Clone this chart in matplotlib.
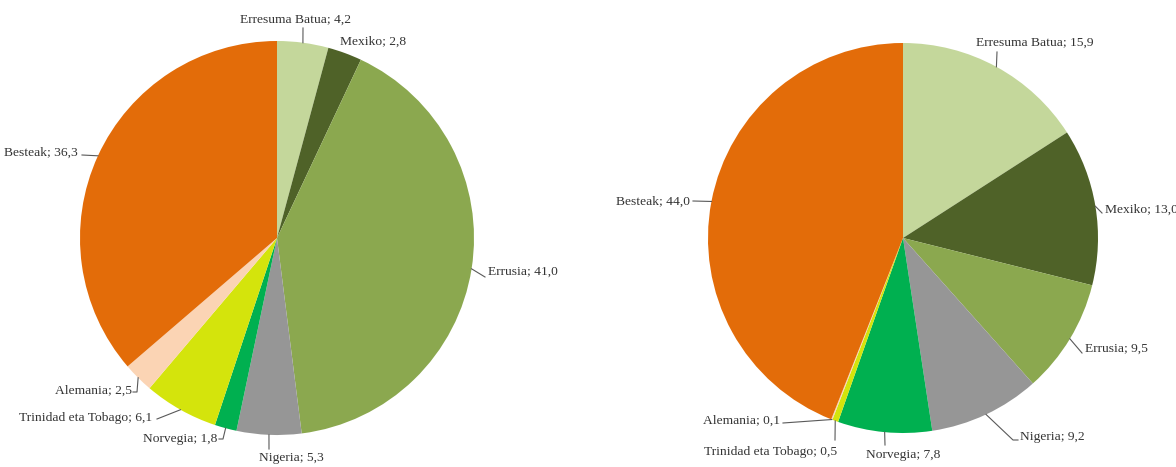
import numpy as np
import matplotlib
matplotlib.use("Agg")
import matplotlib.pyplot as plt

plt.rcParams['font.family'] = ['Liberation Serif', 'DejaVu Serif']

# data
countries = ["Erresuma Batua", "Mexiko", "Errusia", "Nigeria", "Norvegia",
             "Trinidad eta Tobago", "Alemania", "Besteak"]
left_values = [4.2, 2.8, 41.0, 5.3, 1.8, 6.1, 2.5, 36.3]
right_values = [15.9, 13.0, 9.5, 9.2, 7.8, 0.5, 0.1, 44.0]
colors = ["#c4d79b", "#4f6228", "#8ba84f", "#969696", "#00b050",
          "#d4e40c", "#fbd4b4", "#e36c09"]

W, H = 1176, 467

# label layout in pixel coords (y down): text x, text y, ha, leader points
left_layout = [
    (295, 20, "center", [(303, 28)]),
    (340, 42, "left", []),
    (488, 272, "left", [(485, 277)]),
    (291, 458, "center", [(269, 449)]),
    (217, 439, "right", [(223, 439), (219, 439)]),
    (152, 418, "right", [(157, 419)]),
    (132, 391, "right", [(137, 392), (133, 392)]),
    (78, 153, "right", [(82, 155)]),
]
right_layout = [
    (1035, 43, "center", [(997, 52)]),
    (1105, 210, "left", [(1102, 213)]),
    (1085, 349, "left", [(1082, 353)]),
    (1020, 437, "left", [(1013, 440), (1018, 440)]),
    (903, 455, "center", [(885, 445)]),
    (837, 452, "right", [(835, 440)]),
    (780, 421, "right", [(783, 423)]),
    (690, 202, "right", [(693, 201)]),
]


def fmt(v):
    return f"{v:.1f}".replace(".", ",")


def draw_pie(ax, values, cx, cy, r, layout):
    ax.pie(values, colors=colors, startangle=90, counterclock=False,
           center=(cx, H - cy), radius=r, frame=True,
           wedgeprops=dict(linewidth=0))
    cum = np.cumsum(values) - np.array(values) / 2
    total = sum(values)
    for name, v, c, (tx, ty, ha, pts) in zip(countries, values, cum, layout):
        th = np.radians(90 - 360 * c / total)
        ax0 = cx + r * np.cos(th)
        ay0 = cy - r * np.sin(th)
        if pts:
            xs = [ax0] + [p[0] for p in pts]
            ys = [H - ay0] + [H - p[1] for p in pts]
            ax.plot(xs, ys, color="#595959", lw=0.8)
        ax.text(tx, H - ty, f"{name}; {fmt(v)}", ha=ha, va="center",
                fontsize=9.7, color="#333333")


fig = plt.figure(figsize=(W / 100, H / 100), dpi=100)
ax = fig.add_axes([0, 0, 1, 1])

draw_pie(ax, left_values, 277, 238, 197, left_layout)
draw_pie(ax, right_values, 903, 238, 195, right_layout)

ax.set_xlim(0, W)
ax.set_ylim(0, H)
ax.set_aspect("equal")
ax.axis("off")

fig.savefig("out.png", dpi=100)
